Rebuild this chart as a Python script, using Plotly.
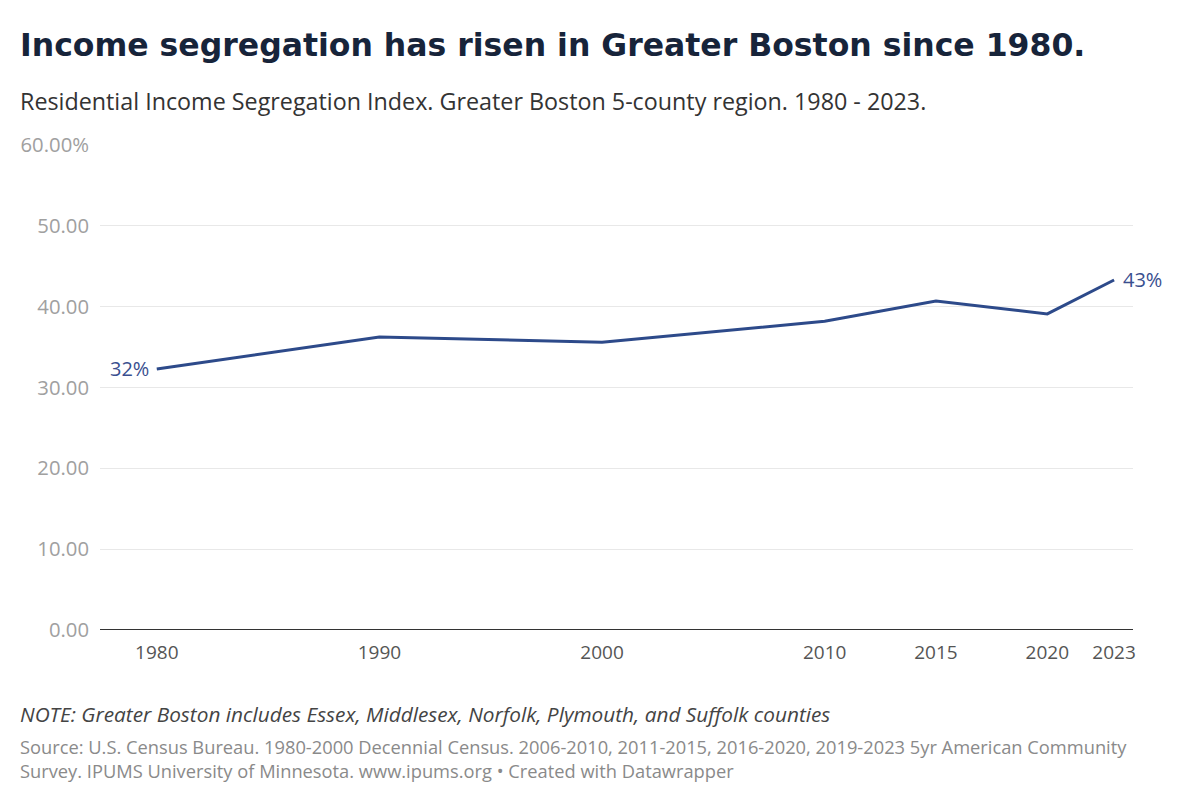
import plotly.graph_objects as go

years = [1980, 1990, 2000, 2010, 2015, 2020, 2023]
index_values = [32.3, 36.25, 35.6, 38.2, 40.7, 39.1, 43.3]
y_tickvals = [0, 10, 20, 30, 40, 50, 60]
y_ticktext = ["0.00", "10.00", "20.00", "30.00", "40.00", "50.00", "60.00%"]
x_ticktext = ["1980", "1990", "2000", "2010", "2015", "2020", "2023"]

title = "Income segregation has risen in Greater Boston since 1980."
subtitle = "Residential Income Segregation Index. Greater Boston 5-county region. 1980 - 2023."
note = "NOTE: Greater Boston includes Essex, Middlesex, Norfolk, Plymouth, and Suffolk counties"
source1 = "Source: U.S. Census Bureau. 1980-2000 Decennial Census. 2006-2010, 2011-2015, 2016-2020, 2019-2023 5yr American Community"
source2 = "Survey. IPUMS University of Minnesota. www.ipums.org • Created with Datawrapper"

LINE = "#2d4a8a"
LABEL = "#3a4f8f"
FONT = "Open Sans"
TFONT = "DejaVu Sans"

OFF = 8  # page body margin
W, H = 1196 - OFF, 800 - OFF
PLOT_L, PLOT_R, PLOT_T, PLOT_B = 100, 1133, 145, 630  # absolute target pixels
L = PLOT_L - OFF
T = PLOT_T - OFF
R = W - (PLOT_R - OFF)
B = H - (PLOT_B - OFF)
PH = PLOT_B - PLOT_T
PW = PLOT_R - PLOT_L

def py(ypx):
    return (PLOT_B - ypx) / PH

def px(xpx):
    return (xpx - PLOT_L) / PW

fig = go.Figure()
fig.add_trace(go.Scatter(
    x=years, y=index_values, mode="lines",
    line=dict(color=LINE, width=3),
    hoverinfo="skip", showlegend=False,
))

def txt(text, xpx, ypx, size, color, family=FONT):
    return dict(text=text, x=px(xpx), y=py(ypx), xref="paper", yref="paper",
                xanchor="left", yanchor="middle", align="left", showarrow=False,
                font=dict(family=family, size=size, color=color))

ann = [
    txt(f"<b>{title}</b>", 18, 45, 31.5, "#17243a", TFONT),
    txt(subtitle, 18, 101, 23.3, "#333333"),
    txt(f"<i>{note}</i>", 18, 714, 20.8, "#444444"),
    txt(f"{source1}<br>{source2}", 18, 758, 18.3, "#8a8a8a"),
    dict(text=f"{index_values[0]:.0f}%", x=years[0], y=index_values[0], xref="x", yref="y",
         xanchor="right", yanchor="middle", xshift=-6, showarrow=False,
         font=dict(family=FONT, size=20, color=LABEL)),
    dict(text=f"{index_values[-1]:.0f}%", x=years[-1], y=index_values[-1], xref="x", yref="y",
         xanchor="left", yanchor="middle", xshift=7, showarrow=False,
         font=dict(family=FONT, size=20, color=LABEL)),
]

fig.update_layout(
    width=W, height=H,
    margin=dict(l=L, r=R, t=T, b=B),
    paper_bgcolor="white", plot_bgcolor="white",
    annotations=ann,
    xaxis=dict(
        range=[1977.45, 2023.85],
        tickvals=years, ticktext=x_ticktext,
        showgrid=False, zeroline=False, showline=False,
        ticks="", ticklabelstandoff=9,
        tickfont=dict(family=FONT, size=19, color="#555555"),
        fixedrange=True,
    ),
    yaxis=dict(
        range=[0, 60],
        tickvals=y_tickvals, ticktext=y_ticktext,
        showgrid=True, gridcolor="#e8e8e8", gridwidth=1,
        zeroline=False, showline=False,
        ticks="", ticklabelstandoff=10,
        tickfont=dict(family=FONT, size=20.3, color="#a0a0a0"),
        fixedrange=True,
    ),
    shapes=[dict(type="line", xref="paper", yref="y", x0=0, x1=1, y0=0, y1=0,
                 line=dict(color="#333333", width=2))],
)

fig.write_html("out.html")
